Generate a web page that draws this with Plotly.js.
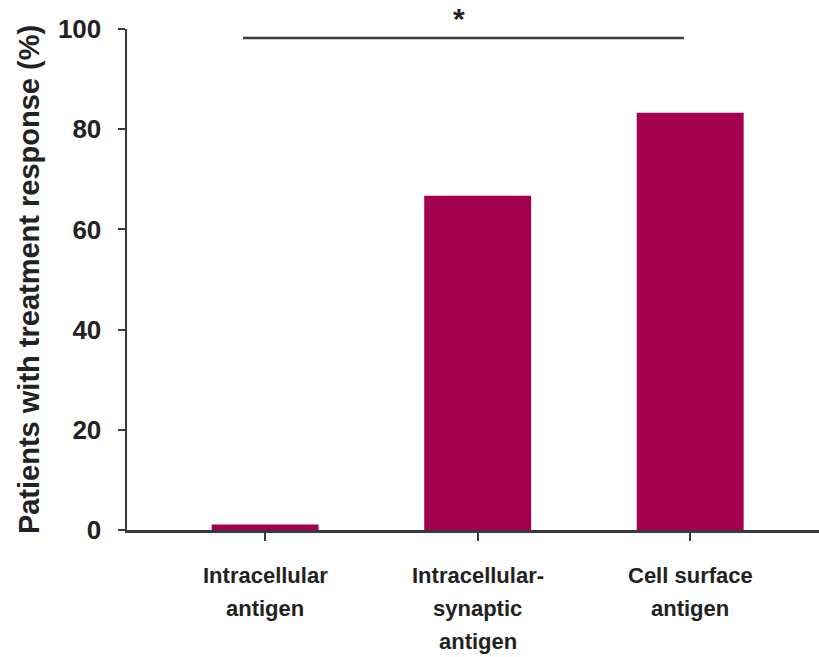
<!DOCTYPE html>
<html>
<head>
<meta charset="utf-8">
<script src="https://cdn.plot.ly/plotly-3.0.1.min.js"></script>
<style>html,body{margin:0;padding:0;background:#fff;}#chart{width:819px;height:657px;}</style>
</head>
<body>
<div id="chart"></div>
<script>
var categories = ["Intracellular antigen", "Intracellular-synaptic antigen", "Cell surface antigen"];
var categoryLabels = [["Intracellular", "antigen"], ["Intracellular-", "synaptic", "antigen"], ["Cell surface", "antigen"]];
var responsePercent = [1.1, 66.7, 83.3];
var yTicks = [0, 20, 40, 60, 80, 100];
var yTitle = "Patients with treatment response (%)";
var significance = {from: 0, to: 2, label: "*"};

var xIdx = categories.map(function (c, i) { return i; });
var font = "Liberation Sans, Arial, sans-serif";
var axisColor = "#3a3a3a";

var annotations = [];
categoryLabels.forEach(function (lines, i) {
  lines.forEach(function (ln, j) {
    annotations.push({
      x: i, xref: "x", y: -0.09 - j * 0.066, yref: "paper",
      text: "<b>" + ln + "</b>", showarrow: false,
      xanchor: "center", yanchor: "middle",
      font: {family: font, size: 22, color: "#222"}
    });
  });
});
annotations.push({
  x: 0.91, xref: "x", y: 1.02, yref: "paper",
  text: "<b>" + significance.label + "</b>", showarrow: false,
  xanchor: "center", yanchor: "middle",
  font: {family: font, size: 30, color: "#222"}
});

var data = [{
  type: "bar",
  x: xIdx,
  y: responsePercent,
  width: 0.503,
  marker: {color: "#A3004F", line: {width: 0}},
  hoverinfo: "skip"
}];

var layout = {
  width: 819, height: 657,
  margin: {l: 127, r: 0, t: 29, b: 127},
  paper_bgcolor: "#fff", plot_bgcolor: "#fff",
  showlegend: false,
  xaxis: {
    range: [-0.65, 2.606],
    tickmode: "array", tickvals: xIdx, ticktext: categories,
    showticklabels: false,
    ticks: "outside", ticklen: 8, tickwidth: 2, tickcolor: axisColor,
    showline: true, linecolor: axisColor, linewidth: 2.5,
    showgrid: false, zeroline: false, fixedrange: true
  },
  yaxis: {
    range: [0, 100],
    tickmode: "array", tickvals: yTicks, ticktext: yTicks.map(String),
    ticks: "outside", ticklen: 7, tickwidth: 2, tickcolor: axisColor,
    ticklabelstandoff: 11,
    tickfont: {family: font, size: 26, color: "#222", weight: "bold"},
    showline: true, linecolor: axisColor, linewidth: 2.5,
    showgrid: false, zeroline: false, fixedrange: true,
    title: {text: "<b>" + yTitle + "</b>", standoff: 10,
            font: {family: font, size: 29, color: "#222"}}
  },
  shapes: [{
    type: "line", xref: "x", yref: "y",
    x0: significance.from - 0.104, x1: significance.to - 0.03,
    y0: 98.2, y1: 98.2,
    line: {color: axisColor, width: 2.5}
  }],
  annotations: annotations
};

Plotly.newPlot("chart", data, layout, {displayModeBar: false, staticPlot: true});
</script>
</body>
</html>
